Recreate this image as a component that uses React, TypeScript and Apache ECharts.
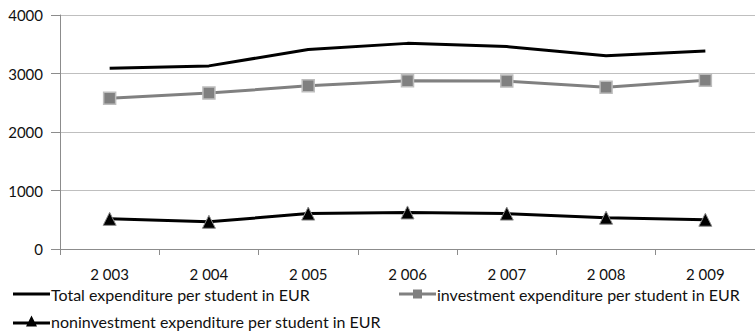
import React, { useEffect, useRef } from "react";
import * as echarts from "echarts";

const years = ["2 003", "2 004", "2 005", "2 006", "2 007", "2 008", "2 009"];
const totalExp = [3090, 3130, 3410, 3515, 3460, 3305, 3385];
const investExp = [2575, 2665, 2790, 2875, 2870, 2765, 2885];
const nonInvestExp = [515, 465, 605, 625, 605, 535, 500];
const yTicks = [0, 1000, 2000, 3000, 4000];

const seriesNames = [
  "Total expenditure per student in EUR",
  "investment expenditure per student in EUR",
  "noninvestment expenditure per student in EUR",
];

const FONT = "Lato";

// Legend keys: a thick line, optionally with the series marker in the middle
const ICON_LINE = "path://M0 0H37V3H0Z";
const ICON_SQUARE = "path://M0 3H37V6H0Z M14 0H23V9H14Z";
const ICON_TRIANGLE = "path://M0 6H37V9H0Z M13 11L18.5 0L24 11Z";

export default function App() {
  const ref = useRef<HTMLDivElement>(null);

  useEffect(() => {
    if (!ref.current) return;
    const chart = echarts.init(ref.current, undefined, { renderer: "svg" });
    const legendBase = {
      itemWidth: 37,
      itemGap: 0,
      padding: 0,
      textStyle: { fontFamily: FONT, fontSize: 16, color: "#111", padding: [0, 0, 0, -4] },
    };
    chart.setOption({
      animation: false,
      grid: { left: 60, right: -9, top: 15, bottom: 82, containLabel: false },
      legend: [
        {
          ...legendBase,
          itemHeight: 3,
          data: [{ name: seriesNames[0], icon: ICON_LINE, itemStyle: { color: "#000", borderWidth: 0 } }],
          left: 13,
          top: 286,
        },
        {
          ...legendBase,
          itemHeight: 9,
          data: [{ name: seriesNames[1], icon: ICON_SQUARE, itemStyle: { color: "#808080", borderWidth: 0 } }],
          left: 399,
          top: 286,
        },
        {
          ...legendBase,
          itemHeight: 11,
          data: [{ name: seriesNames[2], icon: ICON_TRIANGLE, itemStyle: { color: "#000", borderWidth: 0 } }],
          left: 13,
          top: 313,
        },
      ],
      xAxis: {
        type: "category",
        data: years,
        boundaryGap: true,
        axisLine: { lineStyle: { color: "#8c8c8c", width: 1 } },
        axisTick: { show: true, length: 6, lineStyle: { color: "#8c8c8c" } },
        axisLabel: { fontFamily: FONT, fontSize: 15, color: "#111", margin: 17 },
      },
      yAxis: {
        type: "value",
        min: yTicks[0],
        max: yTicks[yTicks.length - 1],
        interval: 1000,
        axisLine: { show: true, lineStyle: { color: "#8c8c8c", width: 1 } },
        axisTick: { show: true, length: 9, lineStyle: { color: "#8c8c8c" } },
        axisLabel: {
          fontFamily: FONT,
          fontSize: 15,
          color: "#111",
          margin: 17,
          formatter: (v: number) => String(v),
        },
        splitLine: { lineStyle: { color: "#bfbfbf", width: 1 } },
      },
      series: [
        {
          name: seriesNames[0],
          type: "line",
          data: totalExp,
          symbol: "none",
          lineStyle: { color: "#000", width: 3 },
          itemStyle: { color: "#000" },
        },
        {
          name: seriesNames[1],
          type: "line",
          data: investExp,
          symbol: "rect",
          symbolSize: 12,
          lineStyle: { color: "#808080", width: 3 },
          itemStyle: { color: "#808080", borderColor: "#bdbdbd", borderWidth: 1.5 },
        },
        {
          name: seriesNames[2],
          type: "line",
          data: nonInvestExp,
          symbol: "triangle",
          symbolSize: 13,
          lineStyle: { color: "#000", width: 3 },
          itemStyle: { color: "#000", borderColor: "#8c8c8c", borderWidth: 1 },
        },
      ],
    });
    return () => chart.dispose();
  }, []);

  return (
    <div
      ref={ref}
      style={{ position: "absolute", left: 0, top: 0, width: 755, height: 331, background: "#fff" }}
    />
  );
}
